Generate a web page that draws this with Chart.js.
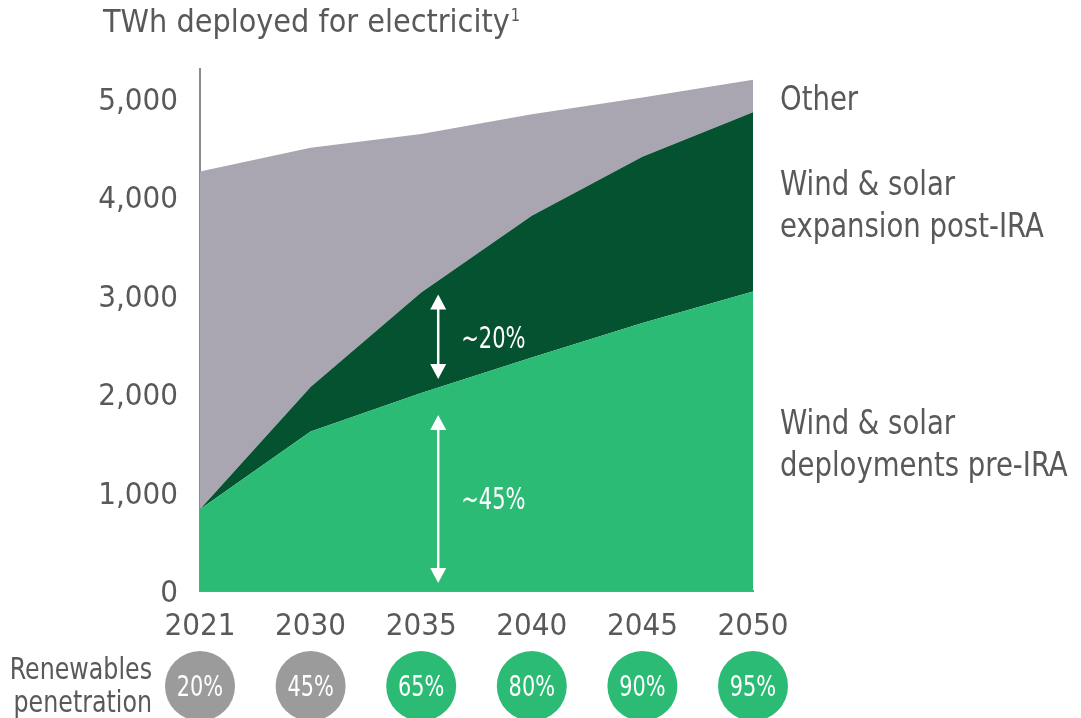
<!DOCTYPE html>
<html>
<head>
<meta charset="utf-8">
<script src="https://cdn.jsdelivr.net/npm/chart.js@4.4.1/dist/chart.umd.min.js"></script>
<style>
  html, body { margin: 0; padding: 0; background: #ffffff; }
  canvas { display: block; }
</style>
</head>
<body>
<canvas id="ira-chart" width="1081" height="718"></canvas>
<script>
// Chart data (TWh deployed for electricity)
const years = ['2021', '2030', '2035', '2040', '2045', '2050'];
const preIRA = [830, 1620, 2010, 2370, 2720, 3040];
const postIRA = [0, 450, 1020, 1440, 1690, 1820];
const other = [3430, 2430, 1610, 1030, 600, 330];
const yTicks = [0, 1000, 2000, 3000, 4000, 5000];
const penetration = ['20%', '45%', '65%', '80%', '90%', '95%'];
const penetrationHigh = [false, false, true, true, true, true];
const seriesLabels = ['Wind & solar deployments pre-IRA', 'Wind & solar expansion post-IRA', 'Other'];
const annotationLabels = ['~20%', '~45%'];

const FONT = '"DejaVu Sans Condensed", "DejaVu Sans", sans-serif';
const TEXT = '#595959';
const LIGHT_GREEN = '#2bbb74';
const DARK_GREEN = '#04522f';
const GREY = '#aaa6b1';
const CIRCLE_GREY = '#9b9b9b';

function font(size) {
  return size + 'px ' + FONT;
}

// Text with a horizontal squeeze, the source font is narrower than ours
function drawText(ctx, text, x, y, size, squeeze, align) {
  ctx.save();
  ctx.font = font(size);
  ctx.textAlign = align || 'left';
  ctx.textBaseline = 'middle';
  ctx.translate(x, y);
  ctx.scale(squeeze, 1);
  ctx.fillText(text, 0, 0);
  const w = ctx.measureText(text).width * squeeze;
  ctx.restore();
  return w;
}

// Double headed white arrow
function drawArrow(ctx, x, top, bottom) {
  const head = 15;
  const half = 8;
  ctx.save();
  ctx.strokeStyle = '#ffffff';
  ctx.fillStyle = '#ffffff';
  ctx.lineWidth = 2.5;
  ctx.beginPath();
  ctx.moveTo(x, top + head - 1);
  ctx.lineTo(x, bottom - head + 1);
  ctx.stroke();
  ctx.beginPath();
  ctx.moveTo(x, top);
  ctx.lineTo(x - half, top + head);
  ctx.lineTo(x + half, top + head);
  ctx.closePath();
  ctx.fill();
  ctx.beginPath();
  ctx.moveTo(x, bottom);
  ctx.lineTo(x - half, bottom - head);
  ctx.lineTo(x + half, bottom - head);
  ctx.closePath();
  ctx.fill();
  ctx.restore();
}

// Title, side labels, arrows and penetration circles
const decorations = {
  id: 'decorations',
  afterDraw(chart) {
    const ctx = chart.ctx;
    const xs = chart.scales.x;
    const ys = chart.scales.y;
    const area = chart.chartArea;
    const last = years.length - 1;

    ctx.save();

    // Title
    ctx.fillStyle = TEXT;
    const tw = drawText(ctx, 'TWh deployed for electricity', 103, 24, 32, 1.0);
    drawText(ctx, '1', 103 + tw + 1, 16, 18, 0.9);

    // Series labels at the right, centred on each band at 2050
    const labelX = area.right + 27;
    const lineGap = 42;
    const bands = [
      [0, preIRA[last]],
      [preIRA[last], preIRA[last] + postIRA[last]],
      [preIRA[last] + postIRA[last], preIRA[last] + postIRA[last] + other[last]]
    ];
    const labelLines = [
      ['Wind & solar', 'deployments pre-IRA'],
      ['Wind & solar', 'expansion post-IRA'],
      ['Other']
    ];
    bands.forEach((b, i) => {
      const mid = ys.getPixelForValue((b[0] + b[1]) / 2) + 5;
      const lines = labelLines[i];
      const start = mid - (lines.length - 1) * lineGap / 2;
      lines.forEach((l, j) => drawText(ctx, l, labelX, start + j * lineGap, 34, 0.9));
    });

    // Arrows at 2035
    const ax = xs.getPixelForValue(2) + 17;
    const topPost = ys.getPixelForValue(preIRA[2] + postIRA[2]);
    const topPre = ys.getPixelForValue(preIRA[2]);
    const zero = ys.getPixelForValue(0);
    drawArrow(ctx, ax, topPost + 2, topPre - 14);
    drawArrow(ctx, ax, topPre + 22, zero - 8);
    ctx.fillStyle = '#ffffff';
    drawText(ctx, annotationLabels[0], ax + 23, (topPost + topPre - 12) / 2 + 3, 30, 0.78);
    drawText(ctx, annotationLabels[1], ax + 23, (topPre + zero + 14) / 2 + 2, 30, 0.78);

    // Renewables penetration row
    ctx.fillStyle = TEXT;
    drawText(ctx, 'Renewables', 152, 671, 30, 0.88, 'right');
    drawText(ctx, 'penetration', 152, 704, 30, 0.88, 'right');

    const cy = 686;
    penetration.forEach((p, i) => {
      const cx = xs.getPixelForValue(i);
      ctx.beginPath();
      ctx.arc(cx, cy, 35, 0, Math.PI * 2);
      ctx.fillStyle = penetrationHigh[i] ? LIGHT_GREEN : CIRCLE_GREY;
      ctx.fill();
      ctx.fillStyle = '#ffffff';
      drawText(ctx, p, cx, cy + 2, 29, 0.8, 'center');
    });

    ctx.restore();
  }
};

const ctx = document.getElementById('ira-chart').getContext('2d');

new Chart(ctx, {
  type: 'line',
  data: {
    labels: years,
    datasets: [
      {
        label: seriesLabels[0],
        data: preIRA,
        backgroundColor: LIGHT_GREEN,
        borderWidth: 0,
        pointRadius: 0,
        fill: 'origin',
        tension: 0
      },
      {
        label: seriesLabels[1],
        data: postIRA,
        backgroundColor: DARK_GREEN,
        borderWidth: 0,
        pointRadius: 0,
        fill: '-1',
        tension: 0
      },
      {
        label: seriesLabels[2],
        data: other,
        backgroundColor: GREY,
        borderWidth: 0,
        pointRadius: 0,
        fill: '-1',
        tension: 0
      }
    ]
  },
  options: {
    responsive: false,
    devicePixelRatio: 1,
    animation: false,
    layout: {
      padding: { top: 69, right: 328, bottom: 67, left: 0 }
    },
    scales: {
      x: {
        type: 'category',
        offset: false,
        z: 1,
        grid: { display: false, drawTicks: false },
        border: { display: true, color: '#8c8c8c', width: 2 },
        ticks: {
          color: TEXT,
          font: { family: FONT, size: 31 },
          padding: 17,
          maxRotation: 0,
          autoSkip: false
        },
        afterFit(scale) { scale.height = 60; }
      },
      y: {
        stacked: true,
        min: 0,
        max: 5300,
        z: 1,
        grid: { display: false, drawTicks: false },
        border: { display: true, color: '#8c8c8c', width: 2 },
        ticks: {
          color: TEXT,
          font: { family: FONT, size: 31 },
          padding: 22,
          labelOffset: 3,
          callback: (v) => v.toLocaleString('en-US')
        },
        afterBuildTicks(scale) {
          scale.ticks = yTicks.map(v => ({ value: v }));
        },
        afterFit(scale) { scale.width = 200; }
      }
    },
    plugins: {
      legend: { display: false },
      tooltip: { enabled: false }
    }
  },
  plugins: [decorations]
});
</script>
</body>
</html>
